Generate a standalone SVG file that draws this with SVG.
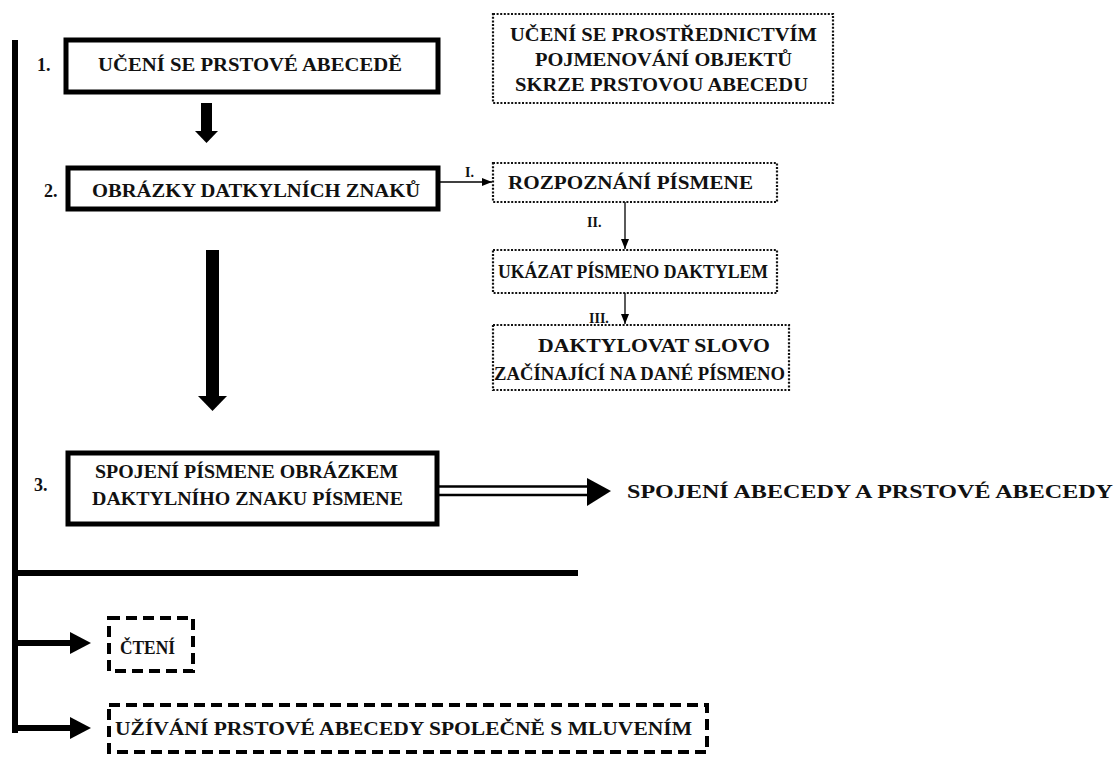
<svg xmlns="http://www.w3.org/2000/svg" width="1120" height="758" viewBox="0 0 1120 758" font-family="Liberation Serif, Times New Roman, DejaVu Serif, serif" font-weight="bold">
  <defs>
    <style>
      text { fill: #111; }
      .t { font-size: 19px; }
      .num { font-size: 18px; }
      .lbl { font-size: 14px; }
      .solid { fill: #fff; stroke: #000; stroke-width: 5; }
      .dotted { fill: #fff; stroke: #111; stroke-width: 2.2; stroke-dasharray: 2 1.6; }
      .dashed { fill: #fff; stroke: #000; stroke-width: 4; stroke-dasharray: 11 6; }
      .thin { stroke: #000; stroke-width: 1.3; fill: none; }
    </style>
    <marker id="small-head" markerWidth="10" markerHeight="8" refX="10" refY="4" orient="auto" markerUnits="userSpaceOnUse">
      <path d="M0,0 L10,4 L0,8 Z" fill="#000"/>
    </marker>
  </defs>

  <rect width="1120" height="758" fill="#fff"/>

  <!-- connectors -->
  <g id="connectors">
    <!-- left spine and horizontal bar -->
    <rect x="12" y="40" width="6" height="693" fill="#000"/>
    <rect x="12" y="570" width="566" height="6" fill="#000"/>
    <!-- spine branches to outcome boxes -->
    <rect x="12" y="640" width="60" height="6" fill="#000"/>
    <path d="M70,632 L91,643 L70,654 Z" fill="#000"/>
    <rect x="12" y="725" width="60" height="6" fill="#000"/>
    <path d="M70,717 L91,728 L70,739 Z" fill="#000"/>
    <!-- block arrow 1 -> 2 -->
    <rect x="201" y="103" width="11" height="29" fill="#000"/>
    <path d="M195,131 L218,131 L206.5,143 Z" fill="#000"/>
    <!-- block arrow 2 -> 3 -->
    <rect x="206" y="250" width="13" height="148" fill="#000"/>
    <path d="M198,396 L227,396 L212.5,411 Z" fill="#000"/>
    <!-- I. / II. / III. thin arrows -->
    <line class="thin" x1="440" y1="182" x2="492" y2="182" marker-end="url(#small-head)"/>
    <line class="thin" x1="625" y1="202" x2="625" y2="249" marker-end="url(#small-head)"/>
    <line class="thin" x1="625" y1="293" x2="625" y2="324" marker-end="url(#small-head)"/>
    <text class="lbl" x="465" y="177">I.</text>
    <text class="lbl" x="587" y="227">II.</text>
    <text class="lbl" x="589" y="323">III.</text>
    <!-- double-line arrow from box 3 -->
    <line x1="438" y1="486.5" x2="590" y2="486.5" stroke="#000" stroke-width="2.5"/>
    <line x1="438" y1="495" x2="590" y2="495" stroke="#000" stroke-width="2.5"/>
    <path d="M587,478 L611,491 L587,506 Z" fill="#000"/>
  </g>

  <g id="step1">
    <text class="num" x="37" y="71">1.</text>
    <rect class="solid" x="66" y="40" width="372" height="52"/>
    <text class="t" x="98" y="71" textLength="304" lengthAdjust="spacingAndGlyphs">UČENÍ SE PRSTOVÉ ABECEDĚ</text>
  </g>

  <g id="naming">
    <rect class="dotted" x="493" y="14" width="340" height="89"/>
    <text class="t" x="510" y="41" textLength="307" lengthAdjust="spacingAndGlyphs">UČENÍ SE PROSTŘEDNICTVÍM</text>
    <text class="t" x="535" y="66" textLength="257" lengthAdjust="spacingAndGlyphs">POJMENOVÁNÍ OBJEKTŮ</text>
    <text class="t" x="515" y="91" textLength="293" lengthAdjust="spacingAndGlyphs">SKRZE PRSTOVOU ABECEDU</text>
  </g>

  <g id="step2">
    <text class="num" x="44" y="197">2.</text>
    <rect class="solid" x="68" y="168" width="370" height="41"/>
    <text class="t" x="92" y="197" textLength="328" lengthAdjust="spacingAndGlyphs">OBRÁZKY DATKYLNÍCH ZNAKŮ</text>
  </g>

  <g id="recognise">
    <rect class="dotted" x="493" y="163" width="284" height="39"/>
    <text class="t" x="508" y="189" textLength="245" lengthAdjust="spacingAndGlyphs">ROZPOZNÁNÍ PÍSMENE</text>
  </g>

  <g id="show-letter">
    <rect class="dotted" x="493" y="250" width="284" height="43"/>
    <text class="t" x="498" y="278" textLength="270" lengthAdjust="spacingAndGlyphs">UKÁZAT PÍSMENO DAKTYLEM</text>
  </g>

  <g id="spell-word">
    <rect class="dotted" x="493" y="325" width="296" height="65"/>
    <text class="t" x="538" y="352" textLength="232" lengthAdjust="spacingAndGlyphs">DAKTYLOVAT SLOVO</text>
    <text class="t" x="494" y="380" textLength="291" lengthAdjust="spacingAndGlyphs">ZAČÍNAJÍCÍ NA DANÉ PÍSMENO</text>
  </g>

  <g id="step3">
    <text class="num" x="34" y="491">3.</text>
    <rect class="solid" x="68" y="453" width="369" height="71"/>
    <text class="t" x="95" y="478" textLength="303" lengthAdjust="spacingAndGlyphs">SPOJENÍ PÍSMENE OBRÁZKEM</text>
    <text class="t" x="92" y="505" textLength="311" lengthAdjust="spacingAndGlyphs">DAKTYLNÍHO ZNAKU PÍSMENE</text>
  </g>

  <g id="result">
    <text class="t" x="627" y="498" textLength="486" lengthAdjust="spacingAndGlyphs">SPOJENÍ ABECEDY A PRSTOVÉ ABECEDY</text>
  </g>

  <g id="reading">
    <rect class="dashed" x="109" y="618" width="84" height="53"/>
    <text class="t" x="120" y="654" textLength="55" lengthAdjust="spacingAndGlyphs">ČTENÍ</text>
  </g>

  <g id="speaking">
    <rect class="dashed" x="109" y="705" width="598" height="47"/>
    <text class="t" x="115" y="735" textLength="577" lengthAdjust="spacingAndGlyphs">UŽÍVÁNÍ PRSTOVÉ ABECEDY SPOLEČNĚ S MLUVENÍM</text>
  </g>
</svg>
